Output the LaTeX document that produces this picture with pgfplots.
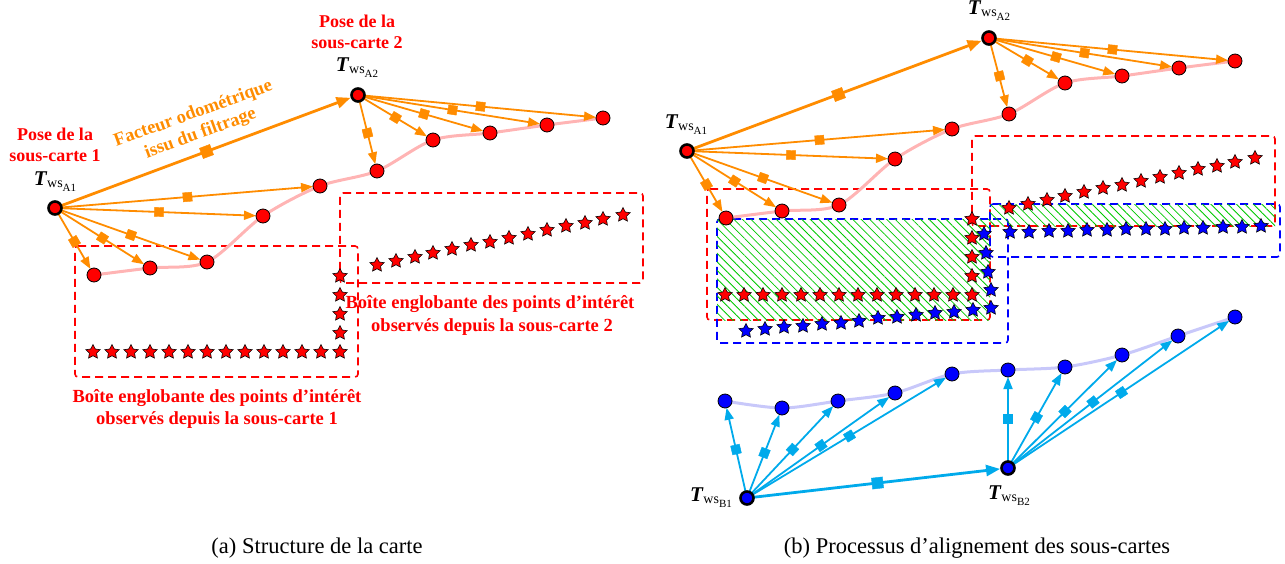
\documentclass[border=0pt]{standalone}
\usepackage{pgfplots}
\pgfplotsset{compat=1.18}
\usepackage{fontspec}
\setmainfont{Liberation Serif}
\usetikzlibrary{arrows.meta,patterns.meta}

\definecolor{myorange}{RGB}{255,140,0}
\definecolor{mycyan}{RGB}{0,170,235}
\definecolor{mypink}{RGB}{255,180,180}
\definecolor{mylav}{RGB}{200,200,250}
\definecolor{myred}{RGB}{255,0,0}
\definecolor{myblue}{RGB}{0,0,255}
\definecolor{mygreen}{RGB}{0,200,0}

\pgfdeclareplotmark{fstar}{%
  \pgfpathmoveto{\pgfpointpolar{90}{\pgfplotmarksize}}%
  \pgfpathlineto{\pgfpointpolar{126}{0.5*\pgfplotmarksize}}%
  \pgfpathlineto{\pgfpointpolar{162}{\pgfplotmarksize}}%
  \pgfpathlineto{\pgfpointpolar{198}{0.5*\pgfplotmarksize}}%
  \pgfpathlineto{\pgfpointpolar{234}{\pgfplotmarksize}}%
  \pgfpathlineto{\pgfpointpolar{270}{0.5*\pgfplotmarksize}}%
  \pgfpathlineto{\pgfpointpolar{306}{\pgfplotmarksize}}%
  \pgfpathlineto{\pgfpointpolar{342}{0.5*\pgfplotmarksize}}%
  \pgfpathlineto{\pgfpointpolar{18}{\pgfplotmarksize}}%
  \pgfpathlineto{\pgfpointpolar{54}{0.5*\pgfplotmarksize}}%
  \pgfpathclose
  \pgfusepathqfillstroke}

\tikzset{
  oarr/.style={myorange, line width=1.8pt, -{Triangle[length=12pt,width=9pt]}, shorten >=7pt},
  oarrM/.style={myorange, line width=2.8pt, -{Triangle[length=14pt,width=11pt]}, shorten >=8pt},
  carr/.style={mycyan, line width=1.8pt, -{Triangle[length=12pt,width=9pt]}, shorten >=7pt},
  carrM/.style={mycyan, line width=2.8pt, -{Triangle[length=14pt,width=11pt]}, shorten >=8pt},
  rbox/.style={myred, line width=1.6pt, dash pattern=on 8pt off 5pt, rounded corners=3pt},
  bbox/.style={myblue, line width=1.6pt, dash pattern=on 8pt off 5pt, rounded corners=3pt},
  hatch/.style={draw=none, pattern={Lines[angle=-45,distance=6pt,line width=0.8pt]}, pattern color=mygreen},
  lbl/.style={font=\bfseries\fontsize{18}{21}\selectfont, anchor=base},
  blbl/.style={font=\bfseries\fontsize{18.5}{22}\selectfont, anchor=base},
}
\newcommand{\Tws}[1]{{\fontsize{21}{21}\selectfont\bfseries\itshape T}\kern0.5pt\raisebox{-2pt}{\fontsize{14}{14}\selectfont ws\raisebox{-4pt}{\fontsize{11}{11}\selectfont #1}}}
\newcommand{\sq}[5]{\addplot[only marks, mark=square*, mark size=#5, color=#1, mark options={rotate=#4}] coordinates {(#2,#3)};}

\begin{document}
\begin{tikzpicture}
\path[use as bounding box] (0,0) rectangle (1285pt,563pt);
\begin{axis}[at={(0,0)}, anchor=south west, x=1pt, y=1pt, y dir=reverse,
  xmin=0, xmax=1285, ymin=0, ymax=563, hide axis, clip=false]

% ---------------- Panel (a) ----------------
\addplot[rbox] coordinates {(75,246) (358,246) (358,377) (75,377)} -- cycle;
\addplot[rbox] coordinates {(340,193) (643,193) (643,283) (340,283)} -- cycle;

\addplot[only marks, mark=fstar, mark size=7.5pt, mark options={fill=myred, draw=black, line width=0.6pt}] coordinates {
 (93,352) (112,352) (131,352) (150,352) (169,352) (188,352) (207,352) (226,352) (245,352) (264,352) (283,352) (302,352) (321,352) (340,352)
 (340,276) (340,295) (340,314) (340,333)
 (377,265) (396,261) (415,257) (433,253) (452,249) (471,245) (490,242) (509,238) (528,234) (547,230) (566,226) (585,223) (603,219) (623,215)};

\addplot[mypink, line width=3pt, smooth, tension=0.5] coordinates {(94,275) (150,268) (207,262) (263,216) (320,186) (377,171) (433,140) (490,133) (547,125) (603,118)};

\addplot[oarr] coordinates {(55,208) (94,275)};
\addplot[oarr] coordinates {(55,208) (150,268)};
\addplot[oarr] coordinates {(55,208) (207,262)};
\addplot[oarr] coordinates {(55,208) (263,216)};
\addplot[oarr] coordinates {(55,208) (320,186)};
\addplot[oarrM] coordinates {(55,208) (358,95)};
\addplot[oarr] coordinates {(358,95) (377,171)};
\addplot[oarr] coordinates {(358,95) (433,140)};
\addplot[oarr] coordinates {(358,95) (490,133)};
\addplot[oarr] coordinates {(358,95) (547,125)};
\addplot[oarr] coordinates {(358,95) (603,118)};

\sq{myorange}{74.5}{241.5}{30.2}{4.5pt}
\sq{myorange}{102.5}{238}{-32.3}{4.5pt}
\sq{myorange}{131}{235}{-19.6}{4.5pt}
\sq{myorange}{159}{212}{-2.2}{4.5pt}
\sq{myorange}{187.5}{197}{4.7}{4.5pt}
\sq{myorange}{206.5}{151.5}{20.5}{5.5pt}
\sq{myorange}{367.5}{133}{-76}{4.5pt}
\sq{myorange}{395.5}{117.5}{-31}{4.5pt}
\sq{myorange}{424}{114}{-16.1}{4.5pt}
\sq{myorange}{452.5}{110}{-9}{4.5pt}
\sq{myorange}{480.5}{106.5}{-5.4}{4.5pt}

\addplot[only marks, mark=*, mark size=7pt, mark options={fill=myred, draw=black, line width=0.8pt}] coordinates {(94,275) (150,268) (207,262) (263,216) (320,186) (377,171) (433,140) (490,133) (547,125) (603,118)};
\addplot[only marks, mark=*, mark size=6.5pt, mark options={fill=myred, draw=black, line width=2.6pt}] coordinates {(55,208) (358,95)};

\node[lbl, text=myred] at (axis cs:55,140) {Pose de la};
\node[lbl, text=myred] at (axis cs:55,161) {sous-carte 1};
\node[lbl, text=myred] at (axis cs:357,27) {Pose de la};
\node[lbl, text=myred] at (axis cs:357,48) {sous-carte 2};
\node[anchor=base] at (axis cs:55,185) {\Tws{A1}};
\node[anchor=base] at (axis cs:357,71) {\Tws{A2}};
\node[font=\bfseries\fontsize{18.5}{21}\selectfont, text=myorange, rotate=20, align=center] at (axis cs:197,124) {Facteur odométrique\\issu du filtrage};
\node[blbl, text=myred] at (axis cs:490,308) {Boîte englobante des points d’intérêt};
\node[blbl, text=myred] at (axis cs:492,331) {observés depuis la sous-carte 2};
\node[blbl, text=myred] at (axis cs:217,402) {Boîte englobante des points d’intérêt};
\node[blbl, text=myred] at (axis cs:217,424) {observés depuis la sous-carte 1};

\node[font=\fontsize{22.5}{26}\selectfont, anchor=base] at (axis cs:317,553) {(a) Structure de la carte};
\node[font=\fontsize{22.5}{26}\selectfont, anchor=base] at (axis cs:977,553) {(b) Processus d’alignement des sous-cartes};

% ---------------- Panel (b) ----------------
\addplot[rbox] coordinates {(707,189) (990,189) (990,320) (707,320)} -- cycle;
\addplot[rbox] coordinates {(972,136) (1275,136) (1275,226) (972,226)} -- cycle;
\addplot[bbox] coordinates {(717,219) (1008,219) (1008,343) (717,343)} -- cycle;
\addplot[bbox] coordinates {(990,204) (1280,204) (1280,257) (990,257)} -- cycle;

\addplot[only marks, mark=fstar, mark size=7.5pt, mark options={fill=myred, draw=black, line width=0.6pt}] coordinates {
 (725,295) (744,295) (763,295) (782,295) (801,295) (820,295) (839,295) (858,295) (877,295) (896,295) (915,295) (934,295) (953,295) (972,295)
 (972,219) (972,238) (972,257) (972,276)
 (1009,208) (1028,204) (1047,200) (1065,196) (1084,192) (1103,188) (1122,185) (1141,181) (1160,177) (1179,173) (1198,169) (1217,166) (1235,162) (1255,158)};

\addplot[only marks, mark=fstar, mark size=7.5pt, mark options={fill=myblue, draw=black, line width=0.6pt}] coordinates {
 (746,331) (765,329) (784,327) (803,326) (822,324) (841,323) (859,321) (878,318) (897,317) (916,315) (935,313) (954,312) (973,310) (991,308)
 (991,290) (988,272) (986,253) (984,234)
 (1010,232) (1029,232) (1049,231) (1068,231) (1087,230) (1107,230) (1126,229) (1146,229) (1165,229) (1184,228) (1203,228) (1223,227) (1242,227) (1261,226)};

\addplot[hatch] coordinates {(717,219) (990,219) (990,320) (717,320)} -- cycle;
\addplot[hatch] coordinates {(990,204) (1275,204) (1275,226) (990,226)} -- cycle;

\addplot[mypink, line width=3pt, smooth, tension=0.5] coordinates {(726,218) (782,211) (839,205) (895,159) (952,129) (1009,114) (1065,83) (1122,76) (1179,68) (1235,61)};
\addplot[mylav, line width=3pt, smooth, tension=0.5] coordinates {(725,401) (782,408) (838,401) (895,393) (952,374) (1008,370) (1065,367) (1122,355) (1178,336) (1235,317)};

\addplot[oarr] coordinates {(687,151) (726,218)};
\addplot[oarr] coordinates {(687,151) (782,211)};
\addplot[oarr] coordinates {(687,151) (839,205)};
\addplot[oarr] coordinates {(687,151) (895,159)};
\addplot[oarr] coordinates {(687,151) (952,129)};
\addplot[oarrM] coordinates {(687,151) (989,38)};
\addplot[oarr] coordinates {(989,38) (1009,114)};
\addplot[oarr] coordinates {(989,38) (1065,83)};
\addplot[oarr] coordinates {(989,38) (1122,76)};
\addplot[oarr] coordinates {(989,38) (1179,68)};
\addplot[oarr] coordinates {(989,38) (1235,61)};

\sq{myorange}{706.5}{184.5}{30.2}{4.5pt}
\sq{myorange}{734.5}{181}{-32.3}{4.5pt}
\sq{myorange}{763}{178}{-19.6}{4.5pt}
\sq{myorange}{791}{155}{-2.2}{4.5pt}
\sq{myorange}{819.5}{140}{4.7}{4.5pt}
\sq{myorange}{838.5}{94.5}{20.5}{5.5pt}
\sq{myorange}{999.5}{76}{-76}{4.5pt}
\sq{myorange}{1027.5}{60.5}{-31}{4.5pt}
\sq{myorange}{1056}{57}{-16.1}{4.5pt}
\sq{myorange}{1084.5}{53}{-9}{4.5pt}
\sq{myorange}{1112.5}{49.5}{-5.4}{4.5pt}

\addplot[carr] coordinates {(747,498) (725,401)};
\addplot[carr] coordinates {(747,498) (782,408)};
\addplot[carr] coordinates {(747,498) (838,401)};
\addplot[carr] coordinates {(747,498) (895,393)};
\addplot[carr] coordinates {(747,498) (952,374)};
\addplot[carrM] coordinates {(747,498) (1008,468)};
\addplot[carr] coordinates {(1008,468) (1008,370)};
\addplot[carr] coordinates {(1008,468) (1065,367)};
\addplot[carr] coordinates {(1008,468) (1122,355)};
\addplot[carr] coordinates {(1008,468) (1178,336)};
\addplot[carr] coordinates {(1008,468) (1235,317)};

\sq{mycyan}{736}{449.5}{102.8}{4.5pt}
\sq{mycyan}{764.5}{453}{68.7}{4.5pt}
\sq{mycyan}{792.5}{449.5}{46.8}{4.5pt}
\sq{mycyan}{821}{445.5}{35.4}{4.5pt}
\sq{mycyan}{849.5}{436}{31.2}{4.5pt}
\sq{mycyan}{877.5}{483}{6.6}{5.5pt}
\sq{mycyan}{1008}{419}{90}{4.5pt}
\sq{mycyan}{1036.5}{417.5}{60.6}{4.5pt}
\sq{mycyan}{1065}{411.5}{44.7}{4.5pt}
\sq{mycyan}{1093}{402}{37.8}{4.5pt}
\sq{mycyan}{1121.5}{392.5}{33.6}{4.5pt}

\addplot[only marks, mark=*, mark size=7pt, mark options={fill=myred, draw=black, line width=0.8pt}] coordinates {(726,218) (782,211) (839,205) (895,159) (952,129) (1009,114) (1065,83) (1122,76) (1179,68) (1235,61)};
\addplot[only marks, mark=*, mark size=6.5pt, mark options={fill=myred, draw=black, line width=2.6pt}] coordinates {(687,151) (989,38)};
\addplot[only marks, mark=*, mark size=7pt, mark options={fill=myblue, draw=black, line width=0.8pt}] coordinates {(725,401) (782,408) (838,401) (895,393) (952,374) (1008,370) (1065,367) (1122,355) (1178,336) (1235,317)};
\addplot[only marks, mark=*, mark size=6.5pt, mark options={fill=myblue, draw=black, line width=2.6pt}] coordinates {(747,498) (1008,468)};

\node[anchor=base] at (axis cs:686,128) {\Tws{A1}};
\node[anchor=base] at (axis cs:989,14) {\Tws{A2}};
\node[anchor=base] at (axis cs:711,501) {\Tws{B1}};
\node[anchor=base] at (axis cs:1009,499) {\Tws{B2}};

\end{axis}
\end{tikzpicture}
\end{document}
